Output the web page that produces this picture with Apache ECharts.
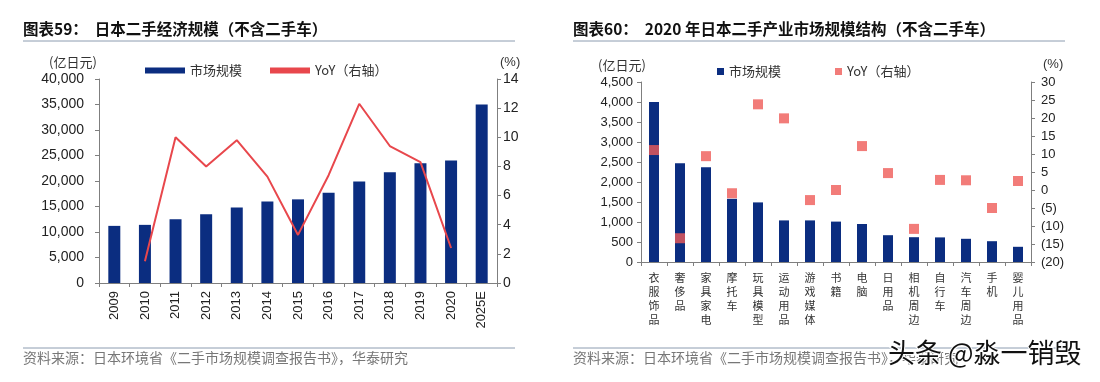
<!DOCTYPE html>
<html><head><meta charset="utf-8">
<script src="https://cdn.jsdelivr.net/npm/echarts@6/dist/echarts.min.js"></script>
<style>html,body{margin:0;padding:0;background:#fff}#c{width:1100px;height:382px}</style>
</head><body><div id="c"></div>
<script>
// Chart 59
const years = ['2009','2010','2011','2012','2013','2014','2015','2016','2017','2018','2019','2020','2025E'];
const marketSize = [11200,11400,12500,13500,14800,16000,16400,17700,19900,21700,23500,24000,35000];
const yoy = [null,1.5,10.0,8.0,9.8,7.3,3.3,7.4,12.3,9.4,8.3,2.4,null];
// Chart 60
const cats = ['衣服饰品','奢侈品','家具家电','摩托车','玩具模型','运动用品','游戏媒体','书籍','电脑','日用品','相机周边','自行车','汽车周边','手机','婴儿用品'];
const catSize = [4000,2470,2370,1580,1490,1040,1040,1010,950,670,620,615,580,520,380];
const catYoy = [11.1,-13.4,9.4,-0.9,23.8,19.9,-2.8,0.0,12.2,4.7,-10.8,2.8,2.7,-5.0,2.5];

const NUM = 'Liberation Sans, Arial, sans-serif';
const CJK = 'Noto Sans CJK SC, sans-serif';
const BAR = '#0b2d80';
const RED = '#e8474c';
const SQ = '#ef5b57';
const AX = '#7f7f7f';
const SRC = '资料来源：日本环境省《二手市场规模调查报告书》，华泰研究';

const chart = echarts.init(document.getElementById('c'));
const axisBase = {axisLine:{show:true,lineStyle:{color:AX}}, axisTick:{show:true,length:4,lineStyle:{color:AX}}, splitLine:{show:false}};

chart.setOption({
  animation:false,
  grid:[
    {left:99, right:603, top:79, bottom:99},
    {left:641, right:69, top:82, bottom:120}
  ],
  xAxis:[
    Object.assign({}, axisBase, {type:'category', gridIndex:0, data:years,
      axisLabel:{rotate:90, margin:8, fontFamily:NUM, fontSize:13, color:'#222'}}),
    Object.assign({}, axisBase, {type:'category', gridIndex:1, data:cats,
      axisLabel:{margin:9, interval:0, fontFamily:CJK, fontSize:11, lineHeight:14, color:'#333',
        formatter:v=>v.split('').join('\n')}})
  ],
  yAxis:[
    Object.assign({}, axisBase, {type:'value', gridIndex:0, min:0, max:40000, interval:5000,
      axisLabel:{margin:15, fontFamily:NUM, fontSize:14, color:'#222', formatter:v=>v.toLocaleString('en-US')}}),
    Object.assign({}, axisBase, {type:'value', gridIndex:0, position:'right', min:0, max:14, interval:2,
      axisLabel:{margin:6, fontFamily:NUM, fontSize:14, color:'#222'}}),
    Object.assign({}, axisBase, {type:'value', gridIndex:1, min:0, max:4500, interval:500,
      axisLabel:{margin:8, fontFamily:NUM, fontSize:13, color:'#222', formatter:v=>v.toLocaleString('en-US')}}),
    Object.assign({}, axisBase, {type:'value', gridIndex:1, position:'right', min:-20, max:30, interval:5,
      axisLabel:{margin:10, fontFamily:NUM, fontSize:13, color:'#222', formatter:v=>v<0?'('+(-v)+')':String(v)}})
  ],
  legend:[
    {left:140, top:59, itemWidth:40, itemHeight:6, itemGap:28, icon:'rect',
      data:['市场规模','YoY（右轴）'], textStyle:{fontFamily:CJK, fontSize:13, color:'#333'}},
    {left:712, top:60, itemWidth:7, itemHeight:7, itemGap:54, icon:'rect',
      data:['市场规模B','YoYB'], formatter:n=>({'市场规模B':'市场规模','YoYB':'YoY（右轴）'})[n],
      textStyle:{fontFamily:CJK, fontSize:13, color:'#333'}}
  ],
  series:[
    {name:'市场规模', type:'bar', xAxisIndex:0, yAxisIndex:0, data:marketSize, barWidth:12, itemStyle:{color:BAR}},
    {name:'YoY（右轴）', type:'line', xAxisIndex:0, yAxisIndex:1, data:yoy, symbol:'none', lineStyle:{color:RED, width:2}, itemStyle:{color:RED}},
    {name:'市场规模B', type:'bar', xAxisIndex:1, yAxisIndex:2, data:catSize, barWidth:10, itemStyle:{color:BAR}},
    {name:'YoYB', type:'scatter', xAxisIndex:1, yAxisIndex:3, data:catYoy, symbol:'rect', symbolSize:10, itemStyle:{color:SQ}, z:5}
  ],
  graphic:[
    {type:'text', left:23, top:21, style:{text:'图表59：  日本二手经济规模（不含二手车）', font:'bold 15.5px '+CJK, fill:'#111'}},
    {type:'text', left:573, top:21, style:{text:'图表60：  2020 年日本二手产业市场规模结构（不含二手车）', font:'bold 15.5px '+CJK, fill:'#111'}},
    {type:'line', shape:{x1:23,y1:41,x2:515,y2:41}, style:{stroke:'#8c9cb0', lineWidth:1}},
    {type:'line', shape:{x1:573,y1:41,x2:1065,y2:41}, style:{stroke:'#8c9cb0', lineWidth:1}},
    {type:'line', shape:{x1:23,y1:348,x2:515,y2:348}, style:{stroke:'#8c9cb0', lineWidth:1}},
    {type:'line', shape:{x1:573,y1:348,x2:1065,y2:348}, style:{stroke:'#8c9cb0', lineWidth:1}},
    {type:'text', left:49, top:56, style:{text:'(亿日元)', font:'13px '+CJK, fill:'#333'}},
    {type:'text', left:500, top:56, style:{text:'(%)', font:'13px '+NUM, fill:'#333'}},
    {type:'text', left:598, top:59, style:{text:'(亿日元)', font:'13px '+CJK, fill:'#333'}},
    {type:'text', left:1043, top:58, style:{text:'(%)', font:'13px '+NUM, fill:'#333'}},
    {type:'text', left:23, top:351, style:{text:SRC, font:'14px '+CJK, fill:'#777'}},
    {type:'text', left:573, top:351, style:{text:SRC, font:'14px '+CJK, fill:'#777'}},
    {type:'text', left:887, top:338, z:100, style:{text:'头条 @淼一销毁', font:'27px '+CJK, fill:'#111', stroke:'#fff', lineWidth:2}}
  ]
});
</script></body></html>
